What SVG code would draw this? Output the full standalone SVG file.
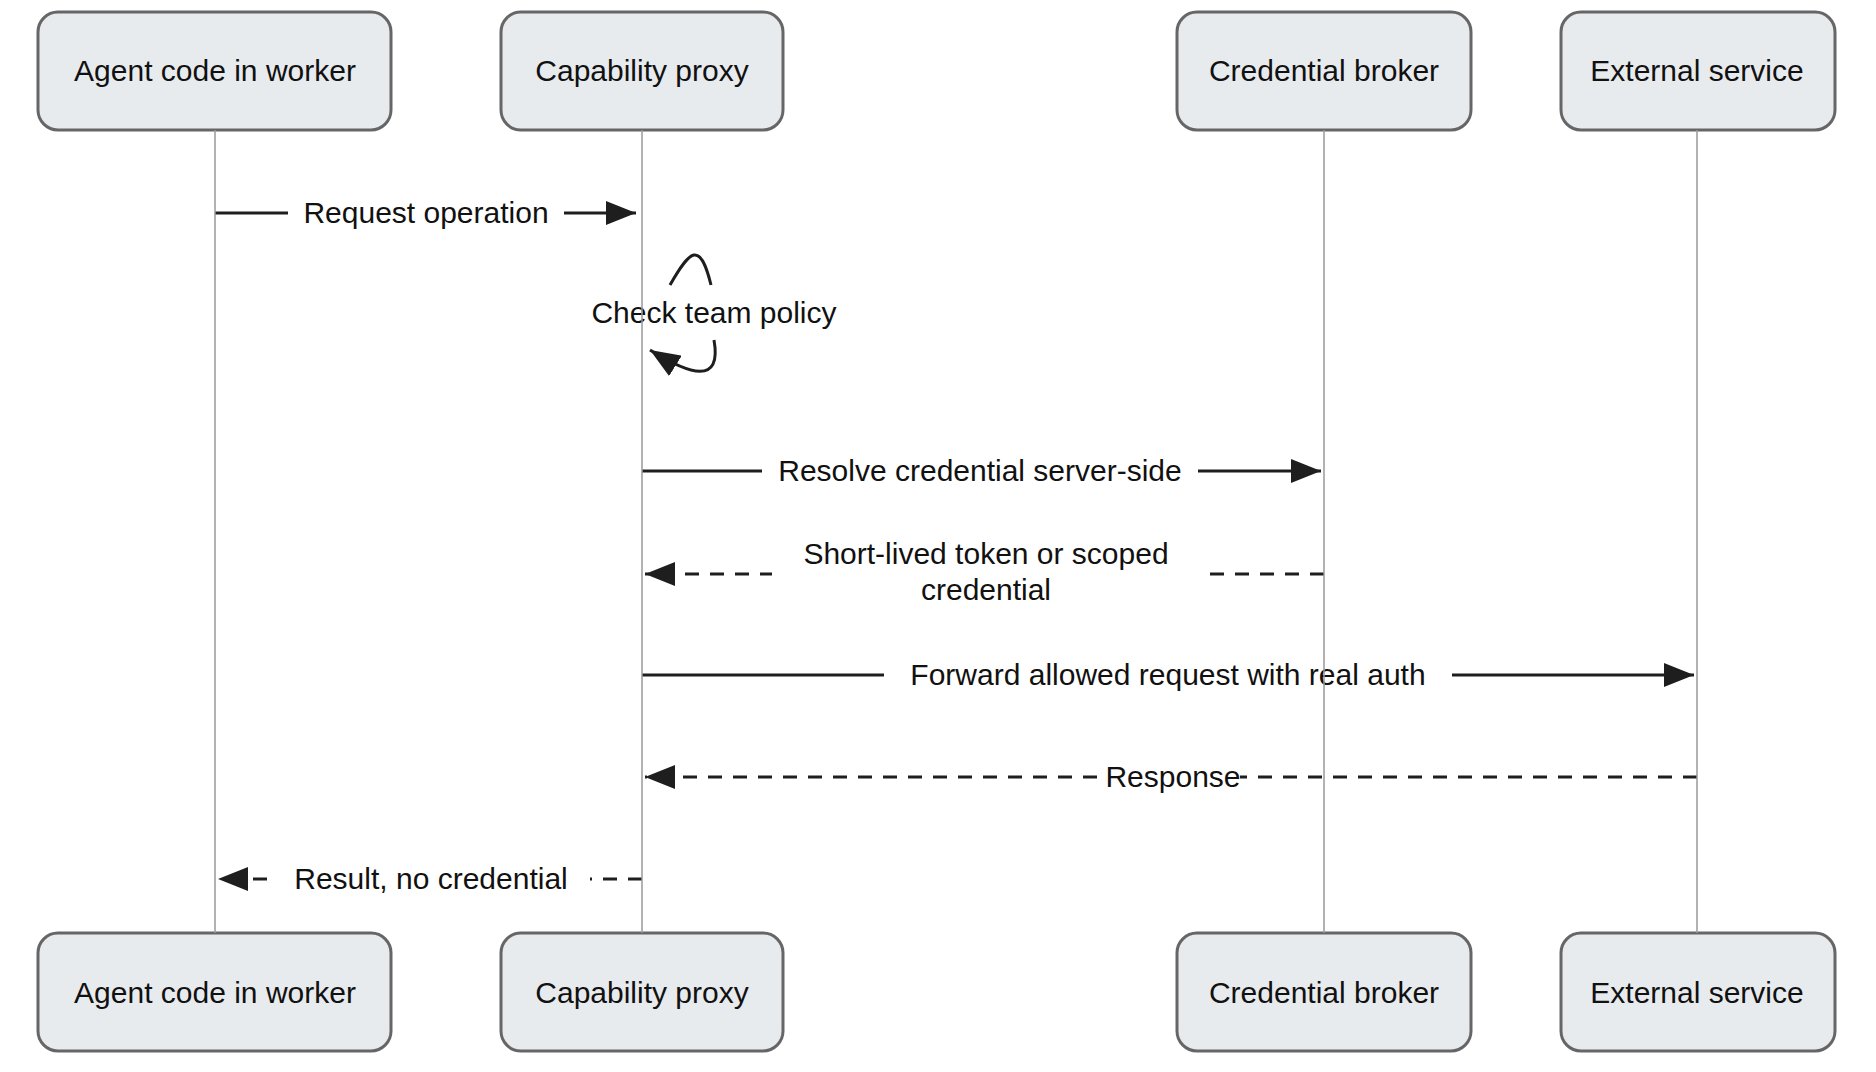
<svg xmlns="http://www.w3.org/2000/svg" width="1876" height="1072" viewBox="0 0 1876 1072">
<style>
.box{fill:#e8ebee;stroke:#666;stroke-width:3}
.t{font-family:"Liberation Sans",Arial,sans-serif;font-size:30px;fill:#111;text-anchor:middle;dominant-baseline:central}
.life{stroke:#999;stroke-width:1.5}
.m{stroke:#1e1e1e;stroke-width:3;fill:none}
.d{stroke-dasharray:14 11}
.bg{fill:#fff}
</style>
<defs>
<marker id="ah" viewBox="0 0 30 24" refX="30" refY="12" markerWidth="30" markerHeight="24" markerUnits="userSpaceOnUse" orient="auto">
<path d="M0,0 L30,12 L0,24 Z" fill="#1e1e1e"/>
</marker>
</defs>
<g id="agent-top"><rect class="box" x="38" y="12" width="353" height="118" rx="20"/><text class="t" x="215" y="70">Agent code in worker</text></g>
<g id="proxy-top"><rect class="box" x="501" y="12" width="282" height="118" rx="20"/><text class="t" x="642" y="70">Capability proxy</text></g>
<g id="broker-top"><rect class="box" x="1177" y="12" width="294" height="118" rx="20"/><text class="t" x="1324" y="70">Credential broker</text></g>
<g id="external-top"><rect class="box" x="1561" y="12" width="274" height="118" rx="20"/><text class="t" x="1697" y="70">External service</text></g>
<g id="agent-bottom"><rect class="box" x="38" y="933" width="353" height="118" rx="20"/><text class="t" x="215" y="992">Agent code in worker</text></g>
<g id="proxy-bottom"><rect class="box" x="501" y="933" width="282" height="118" rx="20"/><text class="t" x="642" y="992">Capability proxy</text></g>
<g id="broker-bottom"><rect class="box" x="1177" y="933" width="294" height="118" rx="20"/><text class="t" x="1324" y="992">Credential broker</text></g>
<g id="external-bottom"><rect class="box" x="1561" y="933" width="274" height="118" rx="20"/><text class="t" x="1697" y="992">External service</text></g>
<g id="connectors">
<line class="m" x1="215" y1="213" x2="636" y2="213" marker-end="url(#ah)"/>
<path class="m" d="M670,285 C690,250 700,240 711,285"/>
<path class="m" d="M714,340 C722,385 690,375 650,350" marker-end="url(#ah)"/>
<line class="m" x1="642" y1="471" x2="1321" y2="471" marker-end="url(#ah)"/>
<line class="m d" x1="1324" y1="574" x2="645" y2="574" marker-end="url(#ah)"/>
<line class="m" x1="642" y1="675" x2="1694" y2="675" marker-end="url(#ah)"/>
<line class="m d" x1="1697" y1="777" x2="645" y2="777" marker-end="url(#ah)"/>
<line class="m d" x1="642" y1="879" x2="218" y2="879" marker-end="url(#ah)"/>
</g>
<g id="labels">
<rect class="bg" x="288" y="195" width="276" height="36"/><text class="t" x="426" y="212">Request operation</text>
<text class="t" x="714" y="312">Check team policy</text>
<rect class="bg" x="762" y="453" width="436" height="36"/><text class="t" x="980" y="470">Resolve credential server-side</text>
<rect class="bg" x="772" y="535" width="428" height="72"/><text class="t" x="986" y="553">Short-lived token or scoped</text><text class="t" x="986" y="589">credential</text>
<rect class="bg" x="884" y="657" width="568" height="36"/><text class="t" x="1168" y="674">Forward allowed request with real auth</text>
<rect class="bg" x="1106" y="759" width="134" height="36"/><text class="t" x="1173" y="776">Response</text>
<rect class="bg" x="272" y="861" width="318" height="36"/><text class="t" x="431" y="878">Result, no credential</text>
</g>
<g id="lifelines">
<line class="life" x1="215" y1="130" x2="215" y2="933"/>
<line class="life" x1="642" y1="130" x2="642" y2="933"/>
<line class="life" x1="1324" y1="130" x2="1324" y2="933"/>
<line class="life" x1="1697" y1="130" x2="1697" y2="933"/>
</g>
</svg>
